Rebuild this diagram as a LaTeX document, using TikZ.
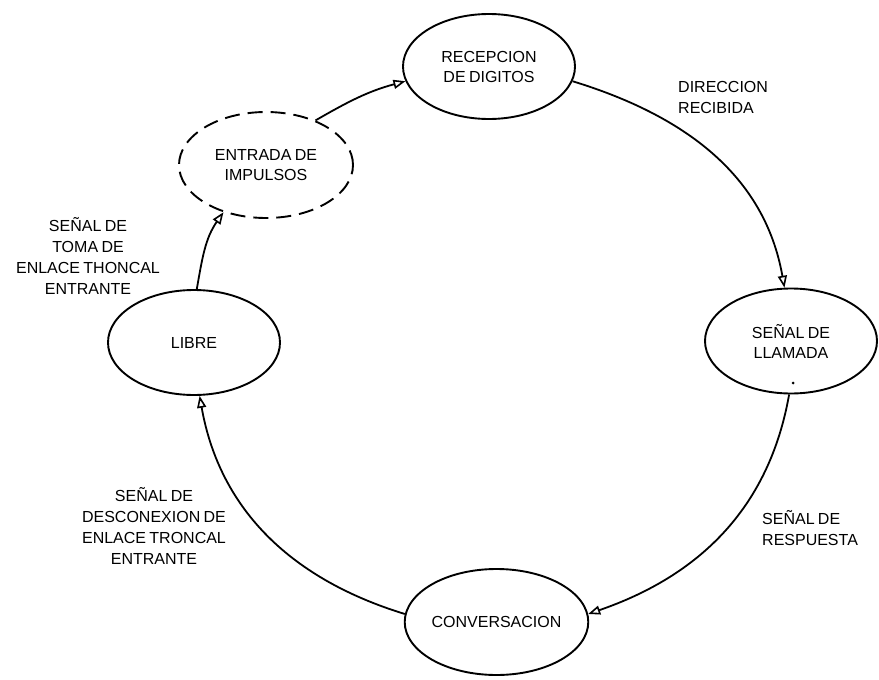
\documentclass[tikz,border=0pt]{standalone}
\usepackage{fontspec}
\setmainfont[WordSpace=0.75]{Liberation Sans}
\usetikzlibrary{shapes.geometric,arrows.meta}
\begin{document}
\begin{tikzpicture}[x=1pt,y=1pt,
  state/.style={ellipse, draw, line width=1.9pt, inner sep=0pt, align=center,
    minimum width=172pt, minimum height=105pt, font=\fontsize{16}{20}\selectfont},
  edge/.style={line width=1.8pt, -{Triangle[open,length=12pt,width=9pt,line width=1.6pt]}},
  lbl/.style={inner sep=0pt, font=\fontsize{16}{21}\selectfont}]
\useasboundingbox (0,0) rectangle (879,-680);

% states
\node[state] (rec) at (489,-66.5) {RECEPCION\\DE DIGITOS};
\node[state, dash pattern=on 15pt off 8pt, minimum width=174pt, minimum height=106pt] (ent) at (266,-165) {ENTRADA DE\\IMPULSOS};
\node[state] (lib) at (194,-342.5) {LIBRE};
\node[state] (lla) at (791,-341) {SEÑAL DE\\LLAMADA};
\node[state, minimum width=175pt, minimum height=106pt] (con) at (496.5,-622) {CONVERSACION};
\fill (793,-383) circle (1.5pt);

% transitions
\draw[edge] (rec.-10) to[out=-17,in=100] (lla.97);
\draw[edge] (lla.-92) to[out=-100,in=19] (con.5);
\draw[edge] (con.175) to[out=163,in=-80] (lib.-84);
\draw[edge] (lib.87) to[out=80,in=235] (ent.228);
\draw[edge] (ent.42) to[out=30,in=195] (rec.190);

% transition labels
\node[lbl, anchor=north west, align=left] (l1) at (678,-81.5) {DIRECCION\\RECIBIDA};
\node[lbl, anchor=north west, align=left] (l2) at (762,-510.5) {SEÑAL DE\\RESPUESTA};
\node[lbl, anchor=north, align=center] (l3) at (154,-487) {SEÑAL DE\\DESCONEXION DE\\ENLACE TRONCAL\\ENTRANTE};
\node[lbl, anchor=north, align=center] (l4) at (88,-217.5) {SEÑAL DE\\TOMA DE\\ENLACE THONCAL\\ENTRANTE};
\end{tikzpicture}
\end{document}
